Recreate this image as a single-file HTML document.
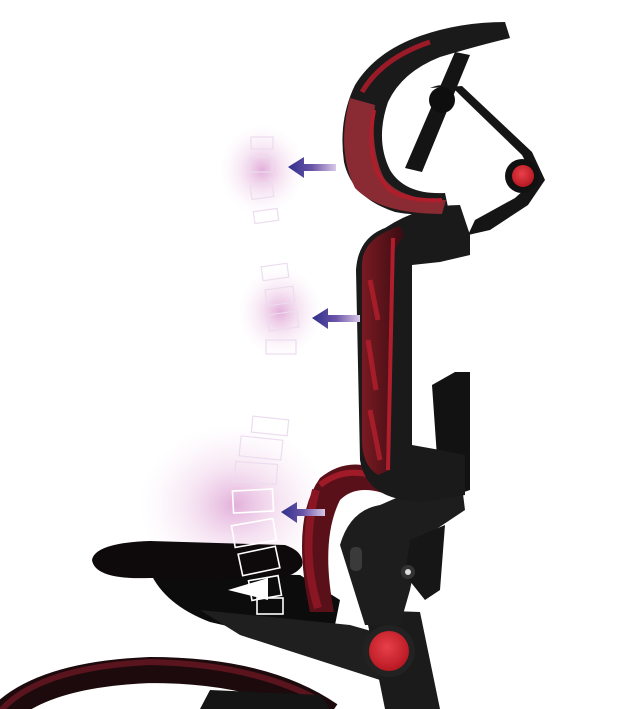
<!DOCTYPE html>
<html><head><meta charset="utf-8"><style>
html,body{margin:0;padding:0;background:#fff;width:625px;height:709px;overflow:hidden}
</style></head><body>
<svg width="625" height="709" viewBox="0 0 625 709" xmlns="http://www.w3.org/2000/svg">
<defs>
<radialGradient id="glow" cx="50%" cy="50%" r="50%">
<stop offset="0" stop-color="#dfa6d6" stop-opacity="0.9"/>
<stop offset="0.5" stop-color="#efcfe9" stop-opacity="0.5"/>
<stop offset="1" stop-color="#f8e8f5" stop-opacity="0"/>
</radialGradient>
<linearGradient id="arr" x1="0" x2="1">
<stop offset="0" stop-color="#2e2f8a"/><stop offset="0.5" stop-color="#6a55a8"/><stop offset="1" stop-color="#d9c8e6"/>
</linearGradient>
<radialGradient id="knob" cx="45%" cy="40%" r="60%">
<stop offset="0" stop-color="#e8404a"/><stop offset="1" stop-color="#b81822"/>
</radialGradient>
<linearGradient id="mesh" x1="0" x2="1">
<stop offset="0" stop-color="#7a1a22"/><stop offset="1" stop-color="#3a0c12"/>
</linearGradient>
</defs>
<ellipse cx="262" cy="170" rx="42" ry="45" fill="url(#glow)"/>
<ellipse cx="280" cy="312" rx="42" ry="45" fill="url(#glow)"/>
<ellipse cx="235" cy="505" rx="95" ry="80" fill="url(#glow)"/>
<g fill="none" stroke="#ecdcef" stroke-width="1.2">
<rect x="251" y="137" width="22" height="12"/><rect x="250" y="157" width="22" height="15"/><rect x="251" y="184" width="22" height="14" transform="rotate(-8 262 191)"/><rect x="254" y="210" width="24" height="12" transform="rotate(-8 266 216)"/>
<rect x="262" y="265" width="26" height="14" transform="rotate(-8 275 272)"/><rect x="266" y="288" width="28" height="16" transform="rotate(-8 280 296)"/><rect x="268" y="313" width="30" height="16" transform="rotate(-8 283 321)"/><rect x="266" y="340" width="30" height="14"/>
<rect x="252" y="418" width="36" height="16" transform="rotate(6 270 426)"/><rect x="240" y="438" width="42" height="20" transform="rotate(6 261 448)"/><rect x="235" y="463" width="42" height="20" transform="rotate(4 256 473)"/>
</g>
<!-- bottom arc -->
<path d="M-10 730 Q25 675 150 670 Q265 670 330 715" fill="none" stroke="#1c0a0d" stroke-width="26"/>
<path d="M-5 718 Q30 668 150 662 Q255 664 322 702" fill="none" stroke="#6a1622" stroke-width="6" opacity="0.8"/>
<path d="M200 709 L210 690 L320 695 L330 709 Z" fill="#151515"/>
<!-- armrest -->
<path d="M150 572 Q165 605 210 622 L330 650 L340 600 L300 575 Z" fill="#0c0c0c"/>
<path d="M92 560 Q95 543 150 541 L285 545 Q305 552 302 566 Q295 576 280 577 L150 578 Q95 580 92 560 Z" fill="#0e0a0b"/>
<g fill="none" stroke="#fff" stroke-width="1.6">
<rect x="233" y="490" width="40" height="22" transform="rotate(-3 253 501)"/>
<rect x="233" y="522" width="42" height="22" transform="rotate(-10 254 533)"/>
<rect x="240" y="550" width="38" height="22" transform="rotate(-12 259 561)"/>
<rect x="250" y="578" width="30" height="20" transform="rotate(-10 265 588)"/>
<rect x="257" y="598" width="26" height="16"/>
</g>
<path d="M228 590 L268 578 L268 600 Z" fill="#fff"/>
<!-- lower arm -->
<path d="M200 610 L350 625 L420 645 L425 690 L380 680 L240 635 Z" fill="#1f1f1f"/>
<path d="M365 610 L420 612 L440 709 L385 709 Z" fill="#1b1b1b"/>
<path d="M432 385 L455 372 L470 372 L470 490 L440 500 Z" fill="#121212"/>
<!-- lumbar loop -->
<path d="M310 612 Q290 520 320 478 Q352 452 392 476 L400 500 Q360 480 340 500 Q320 540 334 612 Z" fill="#5a1018"/>
<path d="M320 485 Q350 462 388 482" fill="none" stroke="#a01a28" stroke-width="6"/>
<path d="M316 490 Q300 550 318 608" fill="none" stroke="#8a1624" stroke-width="8"/>
<path d="M340 545 Q350 510 380 505 L460 470 L465 510 L420 540 L410 590 L400 625 L365 625 Z" fill="#1d1d1d"/>
<path d="M410 540 L445 525 L440 590 L425 600 L405 575 Z" fill="#161616"/>
<circle cx="408" cy="572" r="7" fill="#333"/><circle cx="408" cy="572" r="3" fill="#ddd"/>
<rect x="350" y="547" width="12" height="24" rx="5" fill="#3a3a3a"/>
<!-- backrest -->
<path d="M385 228 Q420 205 460 205 L470 235 L470 255 L440 262 L412 265 L412 445 L440 450 L465 455 L465 495 L420 502 L395 498 Q365 490 360 460 L356 270 Q358 238 385 228 Z" fill="#1a1a1a"/>
<path d="M362 265 Q362 238 400 226 L404 236 Q390 250 390 280 L390 470 L378 475 Q362 465 362 440 Z" fill="url(#mesh)"/>
<path d="M393 238 L388 470" stroke="#b01e2c" stroke-width="4"/>
<path d="M370 280 L378 320 M368 340 L376 390 M370 410 L380 460" stroke="#c02030" stroke-width="5" opacity="0.7"/>
<!-- headrest arm -->
<path d="M430 88 Q447 80 460 95 L522 155 L535 180 L515 198 L475 220 L468 235 L490 230 L528 205 L545 180 L532 152 L462 86 Z" fill="#151515"/>
<path d="M455 52 L470 55 L422 172 L405 168 Z" fill="#141414"/>
<circle cx="442" cy="100" r="13" fill="#0e0e0e"/>
<!-- headrest pad -->
<path d="M505 22 Q460 22 420 36 Q375 52 355 85 Q338 120 344 162 Q352 198 395 212 Q425 218 448 207 L445 193 Q405 195 390 170 Q375 140 388 102 Q402 72 440 57 Q480 45 510 38 Z" fill="#1a1a1a"/>
<path d="M350 98 Q336 150 355 188 Q380 214 442 214 L446 200 Q400 200 384 178 Q370 150 375 105 Z" fill="#8a2a32"/>
<path d="M362 92 Q382 58 430 42" fill="none" stroke="#9a1a28" stroke-width="5"/>
<path d="M374 110 Q364 165 390 190 Q410 202 442 200" fill="none" stroke="#b01e2c" stroke-width="4"/>
<circle cx="522" cy="176" r="17" fill="#111"/>
<circle cx="523" cy="176" r="11" fill="url(#knob)"/>
<circle cx="389" cy="651" r="26" fill="#222"/>
<circle cx="389" cy="651" r="20" fill="url(#knob)"/>
<g fill="url(#arr)">
<path d="M288 167 L304 157 L304 164 L336 164 L336 171 L304 171 L304 178 Z"/>
<path d="M312 318 L328 308 L328 315 L360 315 L360 322 L328 322 L328 329 Z"/>
<path d="M281 512 L297 502 L297 509 L325 509 L325 516 L297 516 L297 523 Z"/>
</g>
</svg>
</body></html>
